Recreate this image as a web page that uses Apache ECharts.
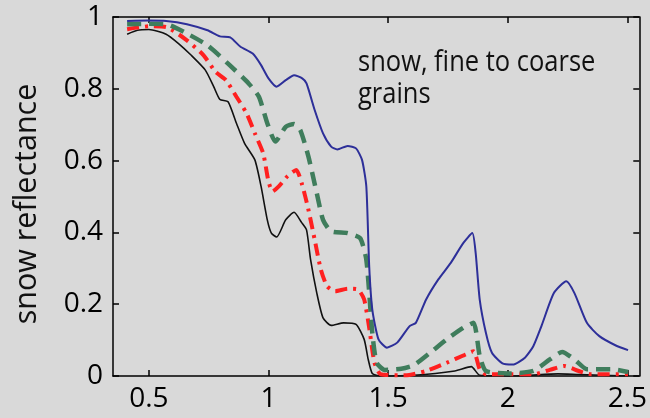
<!DOCTYPE html>
<html>
<head>
<meta charset="utf-8">
<script src="https://cdn.jsdelivr.net/npm/echarts@6/dist/echarts.min.js"></script>
<style>html,body{margin:0;padding:0;background:#d9d9d9;}#c{width:650px;height:418px;}</style>
</head>
<body>
<div id="c"></div>
<script>
const xTicks = [0.5, 1, 1.5, 2, 2.5];
const yTicks = [0, 0.2, 0.4, 0.6, 0.8, 1];

const blueX = [0.409,0.5,0.572,0.659,0.745,0.797,0.84,0.883,0.934,0.969,1.0,1.034,1.072,1.107,1.141,1.159,1.193,1.228,1.262,1.288,1.331,1.366,1.391,1.409,1.421,1.434,1.46,1.495,1.538,1.59,1.616,1.659,1.71,1.762,1.814,1.852,1.866,1.883,1.909,1.934,1.978,2.021,2.072,2.107,2.141,2.193,2.245,2.279,2.331,2.383,2.452,2.503];
const blueY = [0.989,0.99,0.989,0.98,0.963,0.946,0.943,0.917,0.898,0.866,0.829,0.806,0.824,0.838,0.829,0.815,0.741,0.676,0.639,0.631,0.641,0.634,0.602,0.528,0.306,0.185,0.102,0.079,0.093,0.139,0.148,0.213,0.269,0.315,0.37,0.398,0.343,0.213,0.12,0.065,0.035,0.032,0.051,0.083,0.139,0.231,0.264,0.231,0.148,0.111,0.085,0.072];

const greenX = [0.409,0.5,0.572,0.659,0.745,0.831,0.917,0.96,0.995,1.029,1.072,1.107,1.133,1.167,1.202,1.228,1.262,1.331,1.383,1.409,1.434,1.452,1.486,1.555,1.607,1.676,1.745,1.814,1.857,1.883,1.909,2.0,2.107,2.176,2.228,2.279,2.331,2.434,2.503];
const greenY = [0.98,0.981,0.98,0.954,0.921,0.87,0.815,0.778,0.704,0.653,0.694,0.702,0.685,0.611,0.509,0.435,0.403,0.398,0.384,0.324,0.12,0.037,0.017,0.02,0.03,0.065,0.102,0.134,0.148,0.056,0.014,0.007,0.014,0.046,0.067,0.046,0.019,0.019,0.011];

const redX = [0.409,0.5,0.572,0.659,0.728,0.779,0.822,0.866,0.909,0.943,0.978,1.0,1.017,1.043,1.079,1.116,1.141,1.167,1.193,1.219,1.245,1.279,1.331,1.374,1.4,1.422,1.443,1.469,1.572,1.659,1.745,1.814,1.857,1.883,1.909,2.107,2.176,2.236,2.297,2.348,2.503];
const redY = [0.966,0.974,0.972,0.935,0.894,0.847,0.824,0.778,0.731,0.676,0.62,0.542,0.514,0.528,0.556,0.574,0.532,0.463,0.38,0.296,0.25,0.236,0.243,0.241,0.213,0.13,0.037,0.005,0.002,0.014,0.037,0.057,0.069,0.019,0.005,0.005,0.017,0.028,0.014,0.005,0.005];

const blackX = [0.409,0.452,0.5,0.572,0.624,0.676,0.736,0.771,0.797,0.831,0.866,0.9,0.943,0.969,0.995,1.012,1.034,1.072,1.107,1.138,1.159,1.176,1.202,1.228,1.262,1.314,1.366,1.4,1.417,1.434,1.469,1.607,1.779,1.848,1.883,2.038,2.21,2.297,2.503];
const blackY = [0.952,0.963,0.965,0.952,0.926,0.894,0.852,0.806,0.77,0.764,0.704,0.648,0.602,0.528,0.435,0.398,0.387,0.435,0.456,0.428,0.407,0.324,0.231,0.162,0.141,0.148,0.144,0.102,0.046,0.007,0.0,0.002,0.014,0.026,0.002,0.0,0.006,0.004,0.0];

const annotationLines = ['snow, fine to coarse', 'grains'];
const yName = 'snow reflectance';

function pairs(xs, ys){ return xs.map((x,i)=>[x, ys[i]]); }

const FONT = '"Open Sans", sans-serif';
const chart = echarts.init(document.getElementById('c'), null, {renderer:'canvas'});

const axisLineStyle = {color:'#000', width:1.5};
function xAx(pos, show){
  return {
    type:'value', min:0.35, max:2.55, position:pos,
    splitLine:{show:false},
    axisLine:{show:true, onZero:false, lineStyle:axisLineStyle},
    axisTick:{show:true, inside:true, length:6, customValues:xTicks, lineStyle:{color:'#000', width:1.5}},
    axisLabel:{show:show, customValues:xTicks, color:'#000', fontFamily:FONT, fontSize:28, margin:9}
  };
}
function yAx(pos, show){
  return {
    type:'value', min:0, max:1, position:pos,
    splitLine:{show:false},
    axisLine:{show:true, onZero:false, lineStyle:axisLineStyle},
    axisTick:{show:true, inside:true, length:6, customValues:yTicks, lineStyle:{color:'#000', width:1.5}},
    axisLabel:{show:show, customValues:yTicks, color:'#000', fontFamily:FONT, fontSize:28, margin:10}
  };
}

chart.setOption({
  backgroundColor:'#d9d9d9',
  animation:false,
  grid:{left:113, top:17, right:7, bottom:42, containLabel:false},
  xAxis:[xAx('bottom', true), xAx('top', false)],
  yAxis:[yAx('left', true), yAx('right', false)],
  series:[
    {type:'line', data:pairs(blackX, blackY), showSymbol:false, smooth:0.2, lineStyle:{color:'#111', width:1.6}, z:2},
    {type:'line', data:pairs(redX, redY), showSymbol:false, smooth:0.2, lineStyle:{color:'#ff2020', width:4, type:[12,6,3,6]}, z:3},
    {type:'line', data:pairs(greenX, greenY), showSymbol:false, smooth:0.2, lineStyle:{color:'#3f7d5c', width:4.5, type:[14,8]}, z:4},
    {type:'line', data:pairs(blueX, blueY), showSymbol:false, smooth:0.2, lineStyle:{color:'#2d2f99', width:2}, z:5}
  ],
  graphic:[
    {type:'text', x:358, y:63, scaleY:1.12, style:{text:annotationLines[0], font:'25.5px "Open Sans", sans-serif', fill:'#111', textVerticalAlign:'middle'}},
    {type:'text', x:358, y:95, scaleY:1.12, style:{text:annotationLines[1], font:'25.5px "Open Sans", sans-serif', fill:'#111', textVerticalAlign:'middle'}},
    {type:'text', x:43, y:204, rotation:Math.PI/2, style:{text:yName, font:'30.5px "Open Sans", sans-serif', fill:'#111', textAlign:'center', textVerticalAlign:'bottom'}}
  ]
});
</script>
</body>
</html>
